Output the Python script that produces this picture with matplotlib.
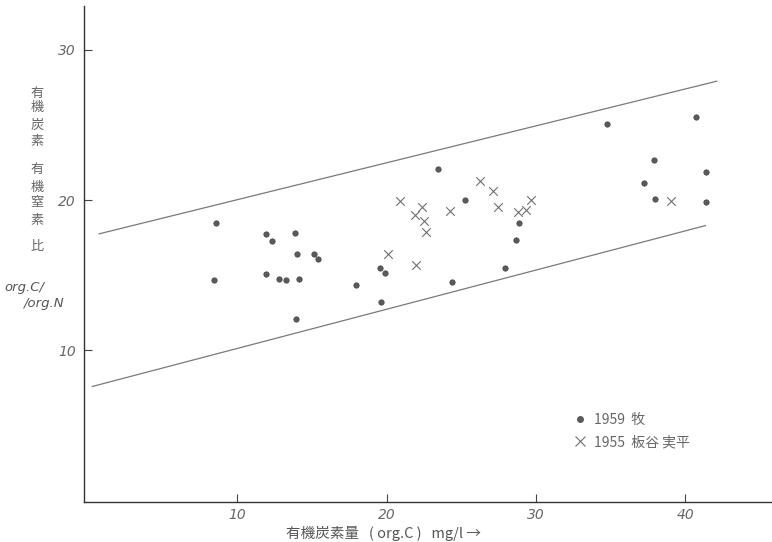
import matplotlib
matplotlib.use("Agg")
import matplotlib.pyplot as plt
from matplotlib.lines import Line2D

plt.rcParams['font.family'] = ['Noto Sans CJK JP', 'DejaVu Sans']

# 1959 (牧) observations: organic C (mg/l) and C/N ratio
maki_x = [8.57, 8.48, 11.96, 12.34, 13.86, 14.04, 15.14, 15.38, 11.94, 12.77,
          13.28, 14.13, 13.95, 17.97, 19.53, 19.91, 19.64, 23.46, 25.25, 24.4,
          27.93, 28.69, 28.84, 34.76, 37.93, 37.21, 38.0, 41.35, 41.35, 40.72]
maki_y = [18.48, 14.68, 17.77, 17.29, 17.8, 16.4, 16.38, 16.11, 15.07, 14.76,
          14.65, 14.72, 12.11, 14.35, 15.51, 15.16, 13.24, 22.08, 20.0, 14.52,
          15.51, 17.33, 18.46, 25.05, 22.68, 21.13, 20.09, 21.88, 19.87, 25.53]

# 1955 (板谷 実平) observations
itaya_x = [20.9, 22.37, 21.88, 22.48, 22.64, 20.13, 21.97, 24.27, 26.23, 27.15,
           27.48, 28.82, 29.34, 29.65, 39.07]
itaya_y = [19.94, 19.56, 19.01, 18.63, 17.86, 16.38, 15.65, 19.28, 21.25, 20.58,
           19.56, 19.19, 19.36, 20.0, 19.92]

# envelope lines
upper_x = [0.76, 42.1]
upper_y = [17.75, 27.9]
lower_x = [0.3, 41.35]
lower_y = [7.6, 18.3]

xticks = [10, 20, 30, 40]
yticks = [10, 20, 30]

fig = plt.figure(figsize=(7.72, 5.42), dpi=100)
ax = fig.add_axes([84/772, 40/542, 688/772, 496/542])
ax.set_xlim(-0.25, 45.8)
ax.set_ylim(-0.08, 32.9)

line_col = '#7a7a7a'
ax.plot(upper_x, upper_y, color=line_col, lw=0.9)
ax.plot(lower_x, lower_y, color=line_col, lw=0.9)

ax.scatter(maki_x, maki_y, s=15, color='#5a5a5a', edgecolors='#444444', linewidths=0.5, zorder=3)
ax.scatter(itaya_x, itaya_y, s=38, marker='x', color='#707070', linewidths=0.8, zorder=3)

for s in ['top', 'right']:
    ax.spines[s].set_visible(False)
for s in ['left', 'bottom']:
    ax.spines[s].set_color('#333333')
    ax.spines[s].set_linewidth(1.0)

ax.set_xticks(xticks)
ax.set_yticks(yticks)
ax.set_xticklabels([str(v) for v in xticks], fontstyle='italic', color='#666666',
                   fontsize=10, family='DejaVu Sans')
ax.set_yticklabels([str(v) for v in yticks], fontstyle='italic', color='#666666',
                   fontsize=10, family='DejaVu Sans')
ax.tick_params(axis='both', direction='in', length=6, width=0.8, color='#444444')
ax.tick_params(axis='x', pad=4)
ax.tick_params(axis='y', pad=6)

# x label
fig.text(383/772, 1 - 533/542, '有機炭素量   ( org.C )   mg/l →', ha='center', va='center',
         fontsize=10.5, color='#555555')

# y label: vertical Japanese characters
ychars = ['有', '機', '炭', '素', '有', '機', '窒', '素', '比']
ypos = [93, 108, 125, 142, 170, 187, 203, 220, 247]
for ch, yp in zip(ychars, ypos):
    fig.text(37/772, 1 - yp/542, ch, ha='center', va='center', fontsize=9.5, color='#666666')
fig.text(24/772, 1 - 287/542, 'org.C/', ha='center', va='center', fontsize=9.5,
         fontstyle='italic', color='#555555', family='DejaVu Sans')
fig.text(44/772, 1 - 303/542, '/org.N', ha='center', va='center', fontsize=9.5,
         fontstyle='italic', color='#555555', family='DejaVu Sans')

handles = [Line2D([], [], ls='none', marker='o', ms=4, color='#5a5a5a'),
           Line2D([], [], ls='none', marker='x', ms=7, color='#707070', mew=0.8)]
labels = ['1959  牧', '1955  板谷 実平']
leg = ax.legend(handles, labels, loc='upper left', bbox_to_anchor=(566/772, 1 - 406/542),
                bbox_transform=fig.transFigure, frameon=False, fontsize=10,
                handletextpad=0.5, handlelength=1.0, labelspacing=0.6, borderpad=0)
for t in leg.get_texts():
    t.set_color('#666666')

fig.savefig('out.png', dpi=100)
